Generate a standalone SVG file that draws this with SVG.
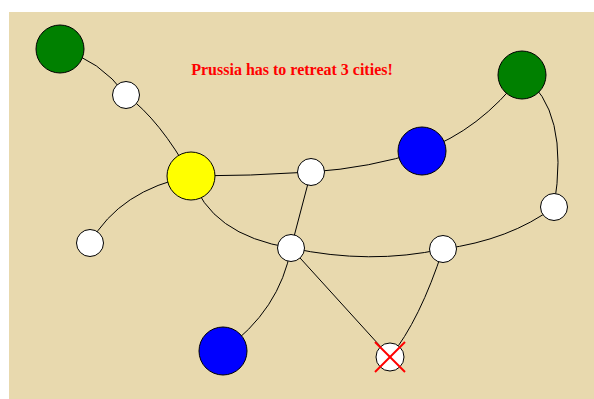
<svg xmlns="http://www.w3.org/2000/svg" width="594" height="399" viewBox="0 0 594 399">
<style>
.e{fill:none;stroke:#000;stroke-width:1}
.n{stroke:#000;stroke-width:1}
.w{fill:#fff}
.g{fill:#008000}
.b{fill:#0000ff}
.y{fill:#ffff00}
.x{stroke:#ff0000;stroke-width:2}
.t{font-family:"Liberation Serif",serif;font-weight:bold;font-size:16px;fill:#ff0000}
</style>
<rect x="9" y="12" width="585" height="387" fill="#e8d9ae"/>
<g id="connectors">
<path class="e" d="M60,49 Q100,60 126,95"/>
<path class="e" d="M126,95 Q160,120 191,176"/>
<path class="e" d="M191,176 Q120,190 90,243"/>
<path class="e" d="M191,176 Q250,176 311,172"/>
<path class="e" d="M311,172 Q370,168 422,151"/>
<path class="e" d="M422,151 Q480,130 522,75"/>
<path class="e" d="M522,75 Q570,110 554,207"/>
<path class="e" d="M554,207 Q510,240 443,249"/>
<path class="e" d="M191,176 Q210,235 291,248"/>
<path class="e" d="M311,172 L291,248"/>
<path class="e" d="M291,248 Q370,265 443,249"/>
<path class="e" d="M291,248 Q280,310 223,351"/>
<path class="e" d="M291,248 L390,357"/>
<path class="e" d="M443,249 Q420,320 390,357"/>
</g>
<g id="green1"><circle class="n g" cx="60" cy="49" r="24"/></g>
<g id="green2"><circle class="n g" cx="522" cy="75" r="24"/></g>
<g id="blue1"><circle class="n b" cx="422" cy="151" r="24"/></g>
<g id="blue2"><circle class="n b" cx="223" cy="351" r="24"/></g>
<g id="yellow"><circle class="n y" cx="191" cy="176" r="24"/></g>
<g id="w1"><circle class="n w" cx="126" cy="95" r="13.5"/></g>
<g id="w2"><circle class="n w" cx="90" cy="243" r="13.5"/></g>
<g id="w3"><circle class="n w" cx="311" cy="172" r="13.5"/></g>
<g id="w4"><circle class="n w" cx="291" cy="248" r="13.5"/></g>
<g id="w5"><circle class="n w" cx="443" cy="249" r="13.5"/></g>
<g id="w6"><circle class="n w" cx="554" cy="207" r="13.5"/></g>
<g id="w7">
<circle class="n w" cx="390" cy="357" r="14"/>
<line class="x" x1="375" y1="342" x2="405" y2="372"/>
<line class="x" x1="375" y1="372" x2="405" y2="342"/>
</g>
<text class="t" x="292" y="75" text-anchor="middle">Prussia has to retreat 3 cities!</text>
</svg>
